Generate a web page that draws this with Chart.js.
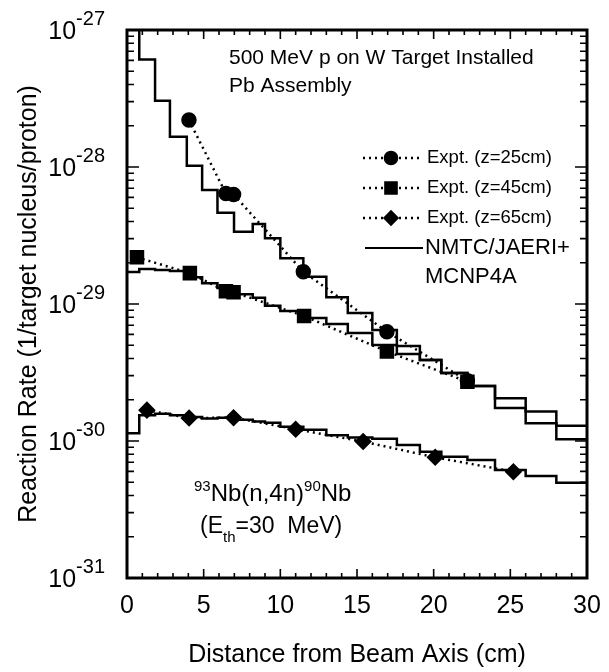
<!DOCTYPE html>
<html>
<head>
<meta charset="utf-8">
<script src="https://cdn.jsdelivr.net/npm/chart.js@4/dist/chart.umd.min.js"></script>
<style>
  html, body { margin: 0; padding: 0; background: #fff; }
  #wrap { width: 609px; height: 672px; }
</style>
</head>
<body>
<div id="wrap"><canvas id="c"></canvas></div>
<script>
// histogram bin edges (cm) shared by the three calculated curves
const binEdges = [0, 0.8, 1.83, 2.8, 3.9, 4.9, 5.9, 6.98, 8.2, 9.0, 10.0, 11.5, 13.0, 14.4, 16.0, 17.6, 19.1, 20.5, 22.2, 24.0, 26.0, 28.0, 30.0];
const calcZ25 = [2e-27, 6.1e-28, 3.05e-28, 1.66e-28, 1.02e-28, 6.8e-29, 4.64e-29, 3.37e-29, 3.84e-29, 3.02e-29, 2.16e-29,
  1.58e-29, 1.12e-29, 8.6e-30, 6.45e-30, 4.93e-30, 3.9e-30, 3.13e-30, 2.52e-30, 2.05e-30, 1.64e-30, 1.29e-30];
const calcZ45 = [1.71e-29, 1.80e-29, 1.77e-29, 1.74e-29, 1.57e-29, 1.42e-29, 1.31e-29, 1.18e-29, 1.11e-29, 9.7e-30, 8.9e-30,
  7.9e-30, 7.15e-30, 6.14e-30, 5.02e-30, 4.31e-30, 3.9e-30, 3.13e-30, 2.52e-30, 1.74e-30, 1.35e-30, 1.03e-30];
const calcZ65 = [1.14e-30, 1.54e-30, 1.58e-30, 1.54e-30, 1.5e-30, 1.46e-30, 1.48e-30, 1.43e-30, 1.39e-30, 1.36e-30, 1.27e-30,
  1.21e-30, 1.1e-30, 1.06e-30, 1.04e-30, 9.35e-31, 8.36e-31, 7.67e-31, 7.26e-31, 6.14e-31, 5.55e-31, 4.96e-31];

// measured points
const exp25X = [4.04, 6.45, 6.95, 11.5, 16.95, 22.2];
const exp25Y = [2.2e-28, 6.4e-29, 6.3e-29, 1.72e-29, 6.28e-30, 2.75e-30];
const exp45X = [0.65, 4.1, 6.45, 6.95, 11.55, 16.95, 22.2];
const exp45Y = [2.19e-29, 1.68e-29, 1.24e-29, 1.22e-29, 8.17e-30, 4.5e-30, 2.71e-30];
const exp65X = [1.3, 4.05, 6.95, 11.0, 15.4, 20.1, 25.2];
const exp65Y = [1.68e-30, 1.47e-30, 1.48e-30, 1.22e-30, 9.9e-31, 7.6e-31, 5.97e-31];

const xTicks = [0, 5, 10, 15, 20, 25, 30];
const decades = [-27, -28, -29, -30, -31];

const FONT = '"Liberation Sans", Arial, Helvetica, sans-serif';

function steps(vals) {
  return binEdges.map((e, i) => ({ x: e, y: vals[Math.min(i, vals.length - 1)] }));
}
function pts(xs, ys) {
  return xs.map((v, i) => ({ x: v, y: ys[i] }));
}
function histo(vals) {
  return { data: steps(vals), stepped: 'before', borderColor: '#000', borderWidth: 2.5, pointRadius: 0, fill: false, clip: 0 };
}
function expt(label, xs, ys, style, r) {
  return {
    label: label, data: pts(xs, ys), borderColor: '#000', borderWidth: 2.5, borderDash: [2, 4],
    pointStyle: style, pointRadius: r, pointBackgroundColor: '#000', pointBorderColor: '#000', fill: false
  };
}

// superscript/subscript helper: parts = [[text, size, dy], ...]
function richText(ctx, parts, x, y) {
  parts.forEach(p => {
    ctx.font = p[1] + 'px ' + FONT;
    ctx.fillText(p[0], x, y + p[2]);
    x += ctx.measureText(p[0]).width;
  });
}

const frame = {
  id: 'frame',
  afterDraw(chart) {
    const { ctx, chartArea: a, scales: { x, y } } = chart;
    ctx.save();
    ctx.strokeStyle = '#000';
    ctx.lineWidth = 3;
    ctx.strokeRect(a.left, a.top, a.right - a.left, a.bottom - a.top);

    // inward ticks
    ctx.lineWidth = 1.6;
    ctx.beginPath();
    for (let v = 0; v <= 30; v++) {
      const px = x.getPixelForValue(v), len = v % 5 ? 5 : 9;
      ctx.moveTo(px, a.bottom); ctx.lineTo(px, a.bottom - len);
      ctx.moveTo(px, a.top); ctx.lineTo(px, a.top + len);
    }
    for (let e = -31; e < -27; e++) {
      for (let m = 1; m < 10; m++) {
        const py = y.getPixelForValue(m * Math.pow(10, e)), len = m === 1 ? 12 : 7;
        ctx.moveTo(a.left, py); ctx.lineTo(a.left + len, py);
        ctx.moveTo(a.right, py); ctx.lineTo(a.right - len, py);
      }
    }
    ctx.stroke();

    // y tick labels 10^n
    ctx.fillStyle = '#000';
    ctx.textAlign = 'right';
    ctx.textBaseline = 'alphabetic';
    decades.forEach(e => {
      const py = y.getPixelForValue(Math.pow(10, e));
      ctx.font = '20px ' + FONT;
      const sup = '-' + Math.abs(e);
      const w = ctx.measureText(sup).width;
      ctx.fillText(sup, 105, py - 5);
      ctx.font = '25px ' + FONT;
      ctx.fillText('10', 105 - w, py + 9);
    });

    // annotation texts
    ctx.textAlign = 'left';
    ctx.font = '21px ' + FONT;
    ctx.fillText('500 MeV p on W Target Installed', 229, 64);
    ctx.fillText('Pb Assembly', 229, 92);

    richText(ctx, [['93', 15, -10], ['Nb(n,4n)', 24, 0], ['90', 15, -10], ['Nb', 24, 0]], 194, 501);
    richText(ctx, [['(E', 23, 0], ['th', 15, 9], ['=30  MeV)', 23, 0]], 200, 533);

    // legend
    const rows = [158, 188, 218];
    chart.data.datasets.filter(d => d.label).forEach((d, i) => {
      const ly = rows[i];
      ctx.save();
      ctx.lineWidth = 2.5;
      ctx.setLineDash(d.borderDash);
      ctx.beginPath();
      ctx.moveTo(363, ly); ctx.lineTo(423, ly);
      ctx.stroke();
      ctx.restore();
      ctx.fillStyle = '#000';
      Chart.helpers.drawPoint(ctx, { pointStyle: d.pointStyle, radius: d.pointRadius, rotation: 0, borderWidth: 1 }, 391, ly);
      ctx.font = '18.5px ' + FONT;
      ctx.textBaseline = 'middle';
      ctx.fillText(d.label, 427, ly);
    });
    ctx.lineWidth = 2;
    ctx.setLineDash([]);
    ctx.beginPath();
    ctx.moveTo(365, 248); ctx.lineTo(423, 248);
    ctx.stroke();
    ctx.font = '22px ' + FONT;
    ctx.textBaseline = 'middle';
    ctx.fillText('NMTC/JAERI+', 425, 248);
    ctx.fillText('MCNP4A', 425, 277);
    ctx.restore();
  }
};

new Chart(document.getElementById('c').getContext('2d'), {
  type: 'line',
  data: {
    datasets: [
      histo(calcZ25),
      histo(calcZ45),
      histo(calcZ65),
      expt('Expt. (z=25cm)', exp25X, exp25Y, 'circle', 6.5),
      expt('Expt. (z=45cm)', exp45X, exp45Y, 'rect', 8.5),
      expt('Expt. (z=65cm)', exp65X, exp65Y, 'rectRot', 7)
    ]
  },
  options: {
    responsive: true,
    maintainAspectRatio: false,
    animation: false,
    layout: { padding: { top: 30, right: 22, left: 0, bottom: 0 } },
    plugins: { legend: { display: false }, tooltip: { enabled: false } },
    scales: {
      x: {
        type: 'linear', min: 0, max: 30,
        afterFit: s => { s.height = 94; s.paddingLeft = 0; s.paddingRight = 0; },
        afterBuildTicks: s => { s.ticks = xTicks.map(v => ({ value: v })); },
        grid: { display: false, drawTicks: false },
        border: { display: false },
        ticks: { color: '#000', font: { family: FONT, size: 25 }, padding: 13, maxRotation: 0 },
        title: { display: true, text: 'Distance from Beam Axis (cm)', color: '#000', font: { family: FONT, size: 25 }, padding: { bottom: 2 } }
      },
      y: {
        type: 'logarithmic', min: 1e-31, max: 1e-27,
        afterFit: s => { s.width = 127; s.paddingTop = 0; s.paddingBottom = 0; },
        grid: { display: false, drawTicks: false },
        border: { display: false },
        ticks: { display: false },
        title: { display: true, text: 'Reaction Rate (1/target nucleus/proton)', color: '#000', font: { family: FONT, size: 25 }, padding: { top: 14 } }
      }
    }
  },
  plugins: [frame]
});
</script>
</body>
</html>
